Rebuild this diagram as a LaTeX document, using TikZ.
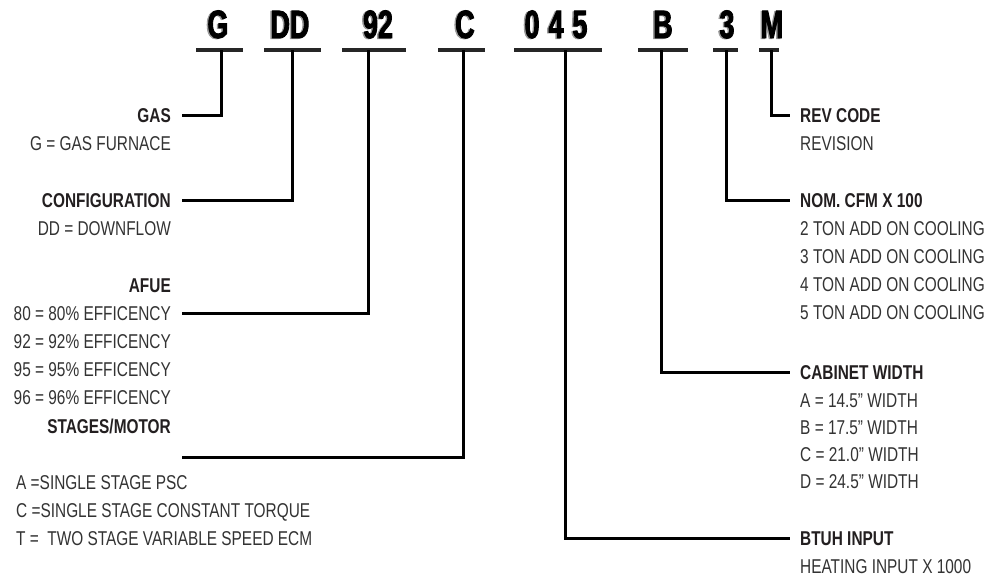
\documentclass[tikz,border=0pt]{standalone}
\usepackage{fontspec}
\setmainfont{Liberation Sans}[FakeStretch=0.77]
\newfontfamily\codefont{Liberation Sans Bold}[FakeStretch=0.68,FakeBold=2.2]
\definecolor{txt}{HTML}{333333}
\definecolor{ttxt}{HTML}{231F20}
\tikzset{
  lbl/.style={font=\fontsize{20}{22}\selectfont, text=txt, inner sep=0pt},
  ttl/.style={font=\fontsize{20}{22}\selectfont\bfseries, text=ttxt, inner sep=0pt},
  lft/.style={anchor=base east},
  rgt/.style={anchor=base west},
  code/.style={font=\fontsize{39.5}{42}\codefont, text=black, inner sep=0pt, anchor=base},
  shadow/.style={font=\fontsize{39.5}{42}\codefont, text=black!40, inner sep=0pt, anchor=base},
  bar/.style={line width=3.5pt, draw=black!85},
  wire/.style={line width=3pt, line join=miter, draw=black}
}
\begin{document}
\begin{tikzpicture}[x=1pt,y=-1pt]
\useasboundingbox[fill=white] (0,0) rectangle (992,584);
% code letters (shadow then letter)
\foreach \n/\x/\t in {G/218/G, DD/290/DD, N92/378/92, C/465/C, N045/556/0\hspace{9pt}4\hspace{9pt}5, B/663/B, N3/727/3, M/772/M}{
  \node[shadow] at (\x-1.5,38.6) {\t};
  \node[code] (c\n) at (\x,38) {\t};
}
% bars
\draw[bar] (196,50) -- (243,50);
\draw[bar] (264,50) -- (321,50);
\draw[bar] (342,50) -- (406,50);
\draw[bar] (438,50) -- (485,50);
\draw[bar] (514,50) -- (602,50);
\draw[bar] (638,50) -- (688,50);
\draw[bar] (713,50) -- (738,50);
\draw[bar] (759,50) -- (779,50);
% junction coordinates
\coordinate (jG) at (221,50);
\coordinate (jDD) at (292,50);
\coordinate (j92) at (368,50);
\coordinate (jC) at (463,50);
\coordinate (j045) at (565,50);
\coordinate (jB) at (661,50);
\coordinate (j3) at (726,50);
\coordinate (jM) at (771,50);
% left labels
\node[ttl,lft] (gas) at (171,122) {GAS};
\node[lbl,lft] (gas1) at (171,150) {G = GAS FURNACE};
\node[ttl,lft] (cfg) at (171,207) {CONFIGURATION};
\node[lbl,lft] (cfg1) at (171,235) {DD = DOWNFLOW};
\node[ttl,lft] (afue) at (171,292) {AFUE};
\node[lbl,lft] (afue1) at (171,320) {80 = 80\% EFFICENCY};
\node[lbl,lft] (afue2) at (171,348) {92 = 92\% EFFICENCY};
\node[lbl,lft] (afue3) at (171,376.5) {95 = 95\% EFFICENCY};
\node[lbl,lft] (afue4) at (171,404.5) {96 = 96\% EFFICENCY};
\node[ttl,lft] (stg) at (171,433) {STAGES/MOTOR};
\node[lbl,rgt] (stg1) at (16,489) {A =SINGLE STAGE PSC};
\node[lbl,rgt] (stg2) at (16,517) {C =SINGLE STAGE CONSTANT TORQUE};
\node[lbl,rgt] (stg3) at (16,545) {T = \ TWO STAGE VARIABLE SPEED ECM};
% right labels
\node[ttl,rgt] (rev) at (800,122) {REV CODE};
\node[lbl,rgt] (rev1) at (800,150) {REVISION};
\node[ttl,rgt] (cfm) at (800,207) {NOM. CFM X 100};
\node[lbl,rgt] (cfm1) at (800,235) {2 TON ADD ON COOLING};
\node[lbl,rgt] (cfm2) at (800,263.5) {3 TON ADD ON COOLING};
\node[lbl,rgt] (cfm3) at (800,291) {4 TON ADD ON COOLING};
\node[lbl,rgt] (cfm4) at (800,319.5) {5 TON ADD ON COOLING};
\node[ttl,rgt] (cab) at (800,379) {CABINET WIDTH};
\node[lbl,rgt] (cab1) at (800,407.5) {A = 14.5” WIDTH};
\node[lbl,rgt] (cab2) at (800,434.5) {B = 17.5” WIDTH};
\node[lbl,rgt] (cab3) at (800,461.5) {C = 21.0” WIDTH};
\node[lbl,rgt] (cab4) at (800,488.5) {D = 24.5” WIDTH};
\node[ttl,rgt] (btu) at (800,545) {BTUH INPUT};
\node[lbl,rgt] (btu1) at (800,573) {HEATING INPUT X 1000};
% connector ends
\coordinate (eG) at (182,115);
\coordinate (eDD) at (182,200);
\coordinate (e92) at (182,313);
\coordinate (eC) at (182,457);
\coordinate (e045) at (790,538);
\coordinate (eB) at (790,372);
\coordinate (e3) at (790,200);
\coordinate (eM) at (790,115);
% connectors
\draw[wire] (jG) |- (eG);
\draw[wire] (jDD) |- (eDD);
\draw[wire] (j92) |- (e92);
\draw[wire] (jC) |- (eC);
\draw[wire] (j045) |- (e045);
\draw[wire] (jB) |- (eB);
\draw[wire] (j3) |- (e3);
\draw[wire] (jM) |- (eM);
\end{tikzpicture}
\end{document}
